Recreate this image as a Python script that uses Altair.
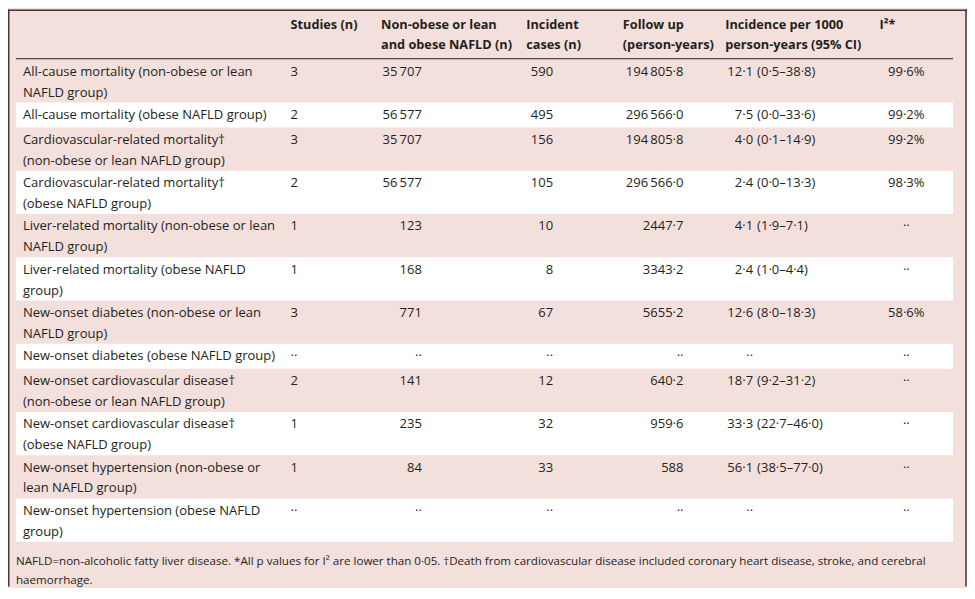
import altair as alt
import pandas as pd

# ---------------- data ----------------
outcomes = [
    "All-cause mortality (non-obese or lean\nNAFLD group)",
    "All-cause mortality (obese NAFLD group)",
    "Cardiovascular-related mortality\u2020\n(non-obese or lean NAFLD group)",
    "Cardiovascular-related mortality\u2020\n(obese NAFLD group)",
    "Liver-related mortality (non-obese or lean\nNAFLD group)",
    "Liver-related mortality (obese NAFLD\ngroup)",
    "New-onset diabetes (non-obese or lean\nNAFLD group)",
    "New-onset diabetes (obese NAFLD group)",
    "New-onset cardiovascular disease\u2020\n(non-obese or lean NAFLD group)",
    "New-onset cardiovascular disease\u2020\n(obese NAFLD group)",
    "New-onset hypertension (non-obese or\nlean NAFLD group)",
    "New-onset hypertension (obese NAFLD\ngroup)",
]
studies = [3, 2, 3, 2, 1, 1, 3, None, 2, 1, 1, None]
participants = [35707, 56577, 35707, 56577, 123, 168, 771, None, 141, 235, 84, None]
cases = [590, 495, 156, 105, 10, 8, 67, None, 12, 32, 33, None]
followup = [194805.8, 296566.0, 194805.8, 296566.0, 2447.7, 3343.2, 5655.2, None, 640.2, 959.6, 588, None]
incidence = [12.1, 7.5, 4.0, 2.4, 4.1, 2.4, 12.6, None, 18.7, 33.3, 56.1, None]
ci_low = [0.5, 0.0, 0.1, 0.0, 1.9, 1.0, 8.0, None, 9.2, 22.7, 38.5, None]
ci_high = [38.8, 33.6, 14.9, 13.3, 7.1, 4.4, 18.3, None, 31.2, 46.0, 77.0, None]
i2 = [99.6, 99.2, 99.2, 98.3, None, None, 58.6, None, None, None, None, None]

headers = {
    "studies": "Studies (n)",
    "participants": "Non-obese or lean\nand obese NAFLD (n)",
    "cases": "Incident\ncases (n)",
    "followup": "Follow up\n(person-years)",
    "incidence": "Incidence per 1000\nperson-years (95% CI)",
    "i2": "I\u00b2*",
}
footnote = ("NAFLD=non-alcoholic fatty liver disease. *All p values for I\u00b2 are lower than 0\u00b705. "
            "\u2020Death from cardiovascular disease included coronary heart disease, stroke, and cerebral\n"
            "haemorrhage.")

# ---------------- layout (pixels of the page) ----------------
OX, OY = 8, 8
W, H = 964, 580
col_x = {
    "label": 23, "studies": 292, "participants": 424, "cases": 556,
    "followup": 687, "point": 757, "ci": 761, "i2": 911,
}
head_x = {
    "studies": 292, "participants": 383, "cases": 529,
    "followup": 626, "incidence": 729, "i2": 884,
}
BAND_L, BAND_R = 16, 958
RULE_Y = 57.5
FIRST_TOP = 58
H1, H2 = 25.0, 43.5
BASE_OFF = 16.5
LINE_H = 21

INK = "#231f20"
PINK = "#f3dfdc"
FONT = "Open Sans"
FS = 13.1

DOT = "\u00b7\u00b7"


def fmt(v, dec=1):
    if v is None:
        return DOT
    if isinstance(v, int):
        dec = 0
    s = f"{v:,.{dec}f}"
    ip, _, dp = s.partition(".")
    if abs(v) >= 10000:
        ip = ip.replace(",", "\u2009")
    else:
        ip = ip.replace(",", "")
    return ip + ("\u00b7" + dp if dp else "")


rows = []
bands = []
top = FIRST_TOP
for i, lab in enumerate(outcomes):
    nlines = lab.count("\n") + 1
    h = H1 if nlines == 1 else H2
    y = top + BASE_OFF
    if i % 2 == 1:
        bands.append({"x": BAND_L, "x2": BAND_R, "y": top, "y2": top + h})
    cells = [
        ("label", lab, "left"),
        ("studies", DOT if studies[i] is None else str(studies[i]), "left"),
        ("participants", fmt(participants[i]), "right"),
        ("cases", fmt(cases[i]), "right"),
        ("followup", fmt(followup[i]), "right"),
        ("point", fmt(incidence[i]), "right"),
        ("ci", "" if ci_low[i] is None else f"({fmt(ci_low[i])}\u2013{fmt(ci_high[i])})", "left"),
        ("i2", DOT if i2[i] is None else fmt(i2[i]) + "%", "center"),
    ]
    for key, txt, al in cells:
        rows.append({"x": col_x[key], "y": y, "text": txt, "align": al})
    top += h

cells_df = pd.DataFrame(rows)
bands_df = pd.DataFrame(bands)
head_df = pd.DataFrame([{"x": head_x[k], "y": 28, "text": t} for k, t in headers.items()])
foot_df = pd.DataFrame([{"x": 16, "y": 566, "text": footnote}])
rule_df = pd.DataFrame([{"x": BAND_L, "x2": BAND_R, "y": RULE_Y}])

xs = alt.Scale(domain=[OX, OX + W], range=[0, W])
ys = alt.Scale(domain=[OY, OY + H], range=[0, H])


def X(f="x"):
    return alt.X(f"{f}:Q", scale=xs, axis=None)


def Y(f="y"):
    return alt.Y(f"{f}:Q", scale=ys, axis=None)


band_layer = alt.Chart(bands_df).mark_rect(color="white").encode(
    x=X(), x2="x2:Q", y=Y(), y2="y2:Q")

rule_layer = alt.Chart(rule_df).mark_rule(color=INK, strokeWidth=1).encode(
    x=X(), x2="x2:Q", y=Y())

frame_l = alt.Chart(rule_df).mark_rule(color="#4a3238", strokeWidth=1.5).encode(
    x=alt.value(0.75), y=alt.value(0), y2=alt.value(H))
frame_t = alt.Chart(rule_df).mark_rule(color="#4a3238", strokeWidth=1.5).encode(
    x=alt.value(0), x2=alt.value(W), y=alt.value(0.75))
frame_r = alt.Chart(rule_df).mark_rule(color="#4a3238", strokeWidth=1.5).encode(
    x=alt.value(W - 1), y=alt.value(0), y2=alt.value(H))


def text_layer(al):
    d = cells_df[cells_df["align"] == al]
    return alt.Chart(d).mark_text(
        align=al, baseline="alphabetic", font=FONT, fontSize=FS, color=INK,
        lineBreak="\n", lineHeight=LINE_H,
    ).encode(x=X(), y=Y(), text="text:N")


head_layer = alt.Chart(head_df).mark_text(
    align="left", baseline="alphabetic", font=FONT, fontSize=12.8, fontWeight="bold",
    color=INK, lineBreak="\n", lineHeight=19.5,
).encode(x=X(), y=Y(), text="text:N")

foot_layer = alt.Chart(foot_df).mark_text(
    align="left", baseline="alphabetic", font=FONT, fontSize=11.65, color=INK,
    lineBreak="\n", lineHeight=19,
).encode(x=X(), y=Y(), text="text:N")

chart = alt.layer(
    band_layer, rule_layer, frame_l, frame_t, frame_r,
    text_layer("left"), text_layer("right"), text_layer("center"),
    head_layer, foot_layer,
).properties(
    width=W, height=H, autosize=alt.AutoSizeParams(type="none"), padding=0,
).configure(background=PINK).configure_view(stroke=None)

chart.save("out.html", embed_options={"renderer": "svg", "actions": False})
